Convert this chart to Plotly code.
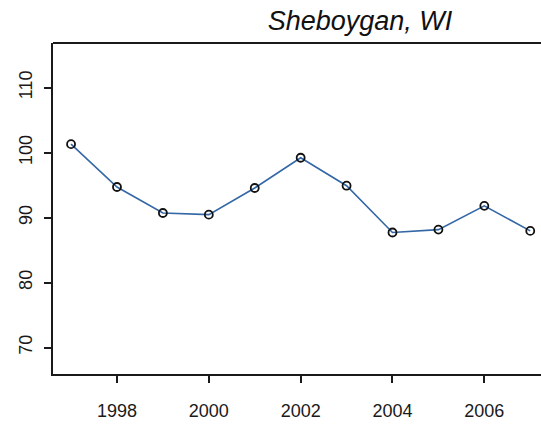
import plotly.graph_objects as go

years = [1997, 1998, 1999, 2000, 2001, 2002, 2003, 2004, 2005, 2006, 2007]
values = [101.3, 94.7, 90.7, 90.45, 94.55, 99.2, 94.9, 87.7, 88.15, 91.8, 87.95]
x_ticks = [1998, 2000, 2002, 2004, 2006]
y_ticks = [70, 80, 90, 100, 110]
title_text = "Sheboygan, WI"

fig = go.Figure()
fig.add_trace(go.Scatter(x=years, y=values, mode="lines",
                         line=dict(color="#3467a6", width=1.6),
                         hoverinfo="skip", showlegend=False))
fig.add_trace(go.Scatter(x=years, y=values, mode="markers",
                         marker=dict(symbol="circle-open", size=8, color="#111111",
                                     line=dict(width=1.8, color="#111111")),
                         showlegend=False))

axis_font = dict(family="Liberation Sans, Arial, sans-serif", size=18, color="#1a1a1a")
fig.update_layout(
    width=541, height=428,
    margin=dict(l=53, r=0, t=43, b=54),
    paper_bgcolor="white", plot_bgcolor="white",
    title=dict(text=title_text, x=360/541, xanchor="center", xref="container",
               y=1 - 21/428, yanchor="middle", yref="container",
               font=dict(family="Liberation Sans, Arial, sans-serif", size=27,
                         color="#111111", style="italic")),
    xaxis=dict(range=[1996.607, 2007.234], tickvals=x_ticks, ticktext=[str(v) for v in x_ticks],
               showgrid=False, zeroline=False, showline=True, linecolor="#1a1a1a", linewidth=2,
               ticks="outside", ticklen=7, tickwidth=1.5, tickcolor="#1a1a1a",
               tickfont=axis_font, ticklabelstandoff=12),
    yaxis=dict(range=[65.93, 116.86], tickvals=y_ticks, ticktext=[str(v) for v in y_ticks],
               showgrid=False, zeroline=False, showline=True, linecolor="#1a1a1a", linewidth=2,
               ticks="outside", ticklen=7, tickwidth=1.5, tickcolor="#1a1a1a",
               tickfont=axis_font, tickangle=-90, ticklabelstandoff=5),
    shapes=[dict(type="line", xref="paper", yref="paper", x0=0, x1=1, y0=1, y1=1,
                 line=dict(color="#1a1a1a", width=2))],
)
fig.write_html("out.html", config={"displayModeBar": False},
               post_script="document.body.style.margin='0';document.body.style.overflow='hidden';")
